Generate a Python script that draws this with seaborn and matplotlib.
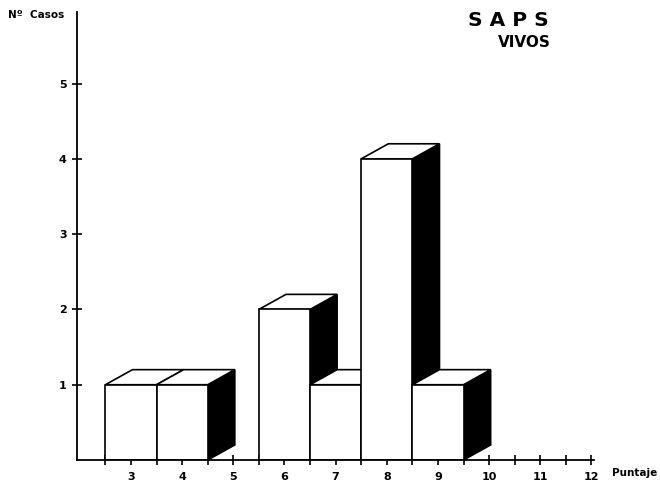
import matplotlib
matplotlib.use("Agg")
import matplotlib.pyplot as plt
from matplotlib.patches import Polygon
import numpy as np
import pandas as pd
import seaborn as sns

# Puntuación SAPS en pacientes vivos
puntaje = [3, 4, 5, 6, 7, 8, 9, 10, 11, 12]
casos = [1, 1, 0, 2, 1, 4, 1, 0, 0, 0]
y_ticks = [1, 2, 3, 4, 5]

sns.set_theme(style="white")
plt.rcParams["font.family"] = ["DejaVu Sans"]
plt.rcParams["text.color"] = "black"
plt.rcParams["xtick.color"] = "black"
plt.rcParams["ytick.color"] = "black"
plt.rcParams["xtick.labelcolor"] = "black"
plt.rcParams["ytick.labelcolor"] = "black"

df = pd.DataFrame({"puntaje": puntaje, "casos": casos})
df_bars = df[df["casos"] > 0]

fig = plt.figure(figsize=(6.6, 4.83), dpi=100)
ax = fig.add_axes([0.117, 0.0476, 0.783, 0.9275])

sns.barplot(data=df_bars, x="puntaje", y="casos", native_scale=True,
            width=1.0, color="white", edgecolor="black", linewidth=1.2,
            saturation=1, errorbar=None, ax=ax)

# Oblique depth of each block (data units)
dx, dy = 0.53, 0.20

patches = sorted(ax.patches, key=lambda p: p.get_x())
for i, p in enumerate(patches):
    x0 = p.get_x()
    w = p.get_width()
    h = p.get_height()
    x1 = x0 + w
    base = 3 + 3 * i
    side = Polygon([(x1, 0), (x1 + dx, dy), (x1 + dx, h + dy), (x1, h)],
                   closed=True, facecolor="black", edgecolor="black",
                   linewidth=1.2, zorder=base, clip_on=False)
    top = Polygon([(x0, h), (x0 + dx, h + dy), (x1 + dx, h + dy), (x1, h)],
                  closed=True, facecolor="white", edgecolor="black",
                  linewidth=1.2, zorder=base + 1, clip_on=False)
    ax.add_patch(side)
    ax.add_patch(top)
    p.set_zorder(base + 2)

ax.set_xlim(1.95, 12.05)
ax.set_ylim(0, 5.95)

for s in ("top", "right"):
    ax.spines[s].set_visible(False)
for s in ("left", "bottom"):
    ax.spines[s].set_color("black")
    ax.spines[s].set_linewidth(1.3)
    ax.spines[s].set_zorder(50)

ax.set_xticks(puntaje)
ax.set_xticklabels([str(v) for v in puntaje], fontweight="bold", fontsize=8)
ax.set_xticks(np.arange(2.5, 12, 1.0), minor=True)
ax.set_yticks(y_ticks)
ax.set_yticklabels([str(v) for v in y_ticks], fontweight="bold", fontsize=8)
ax.tick_params(axis="both", which="both", direction="inout", length=7,
               width=1.2, color="black", labelcolor="black",
               bottom=True, left=True)
ax.tick_params(axis="x", which="major", pad=5)
ax.tick_params(axis="y", which="major", pad=4)
ax.set_xlabel("")
ax.set_ylabel("")
ax.grid(False)

fig.text(0.012, 0.969, "Nº  Casos", fontsize=7.5, fontweight="bold",
         color="black", ha="left", va="center")
fig.text(0.927, 0.021, "Puntaje", fontsize=7.5, fontweight="bold",
         color="black", ha="left", va="center")
fig.text(0.770, 0.957, "S A P S", fontsize=14.5, fontweight="heavy",
         color="black", ha="center", va="center")
fig.text(0.794, 0.913, "VIVOS", fontsize=11, fontweight="heavy",
         color="black", ha="center", va="center")

fig.savefig("out.png", dpi=100, facecolor="white")
